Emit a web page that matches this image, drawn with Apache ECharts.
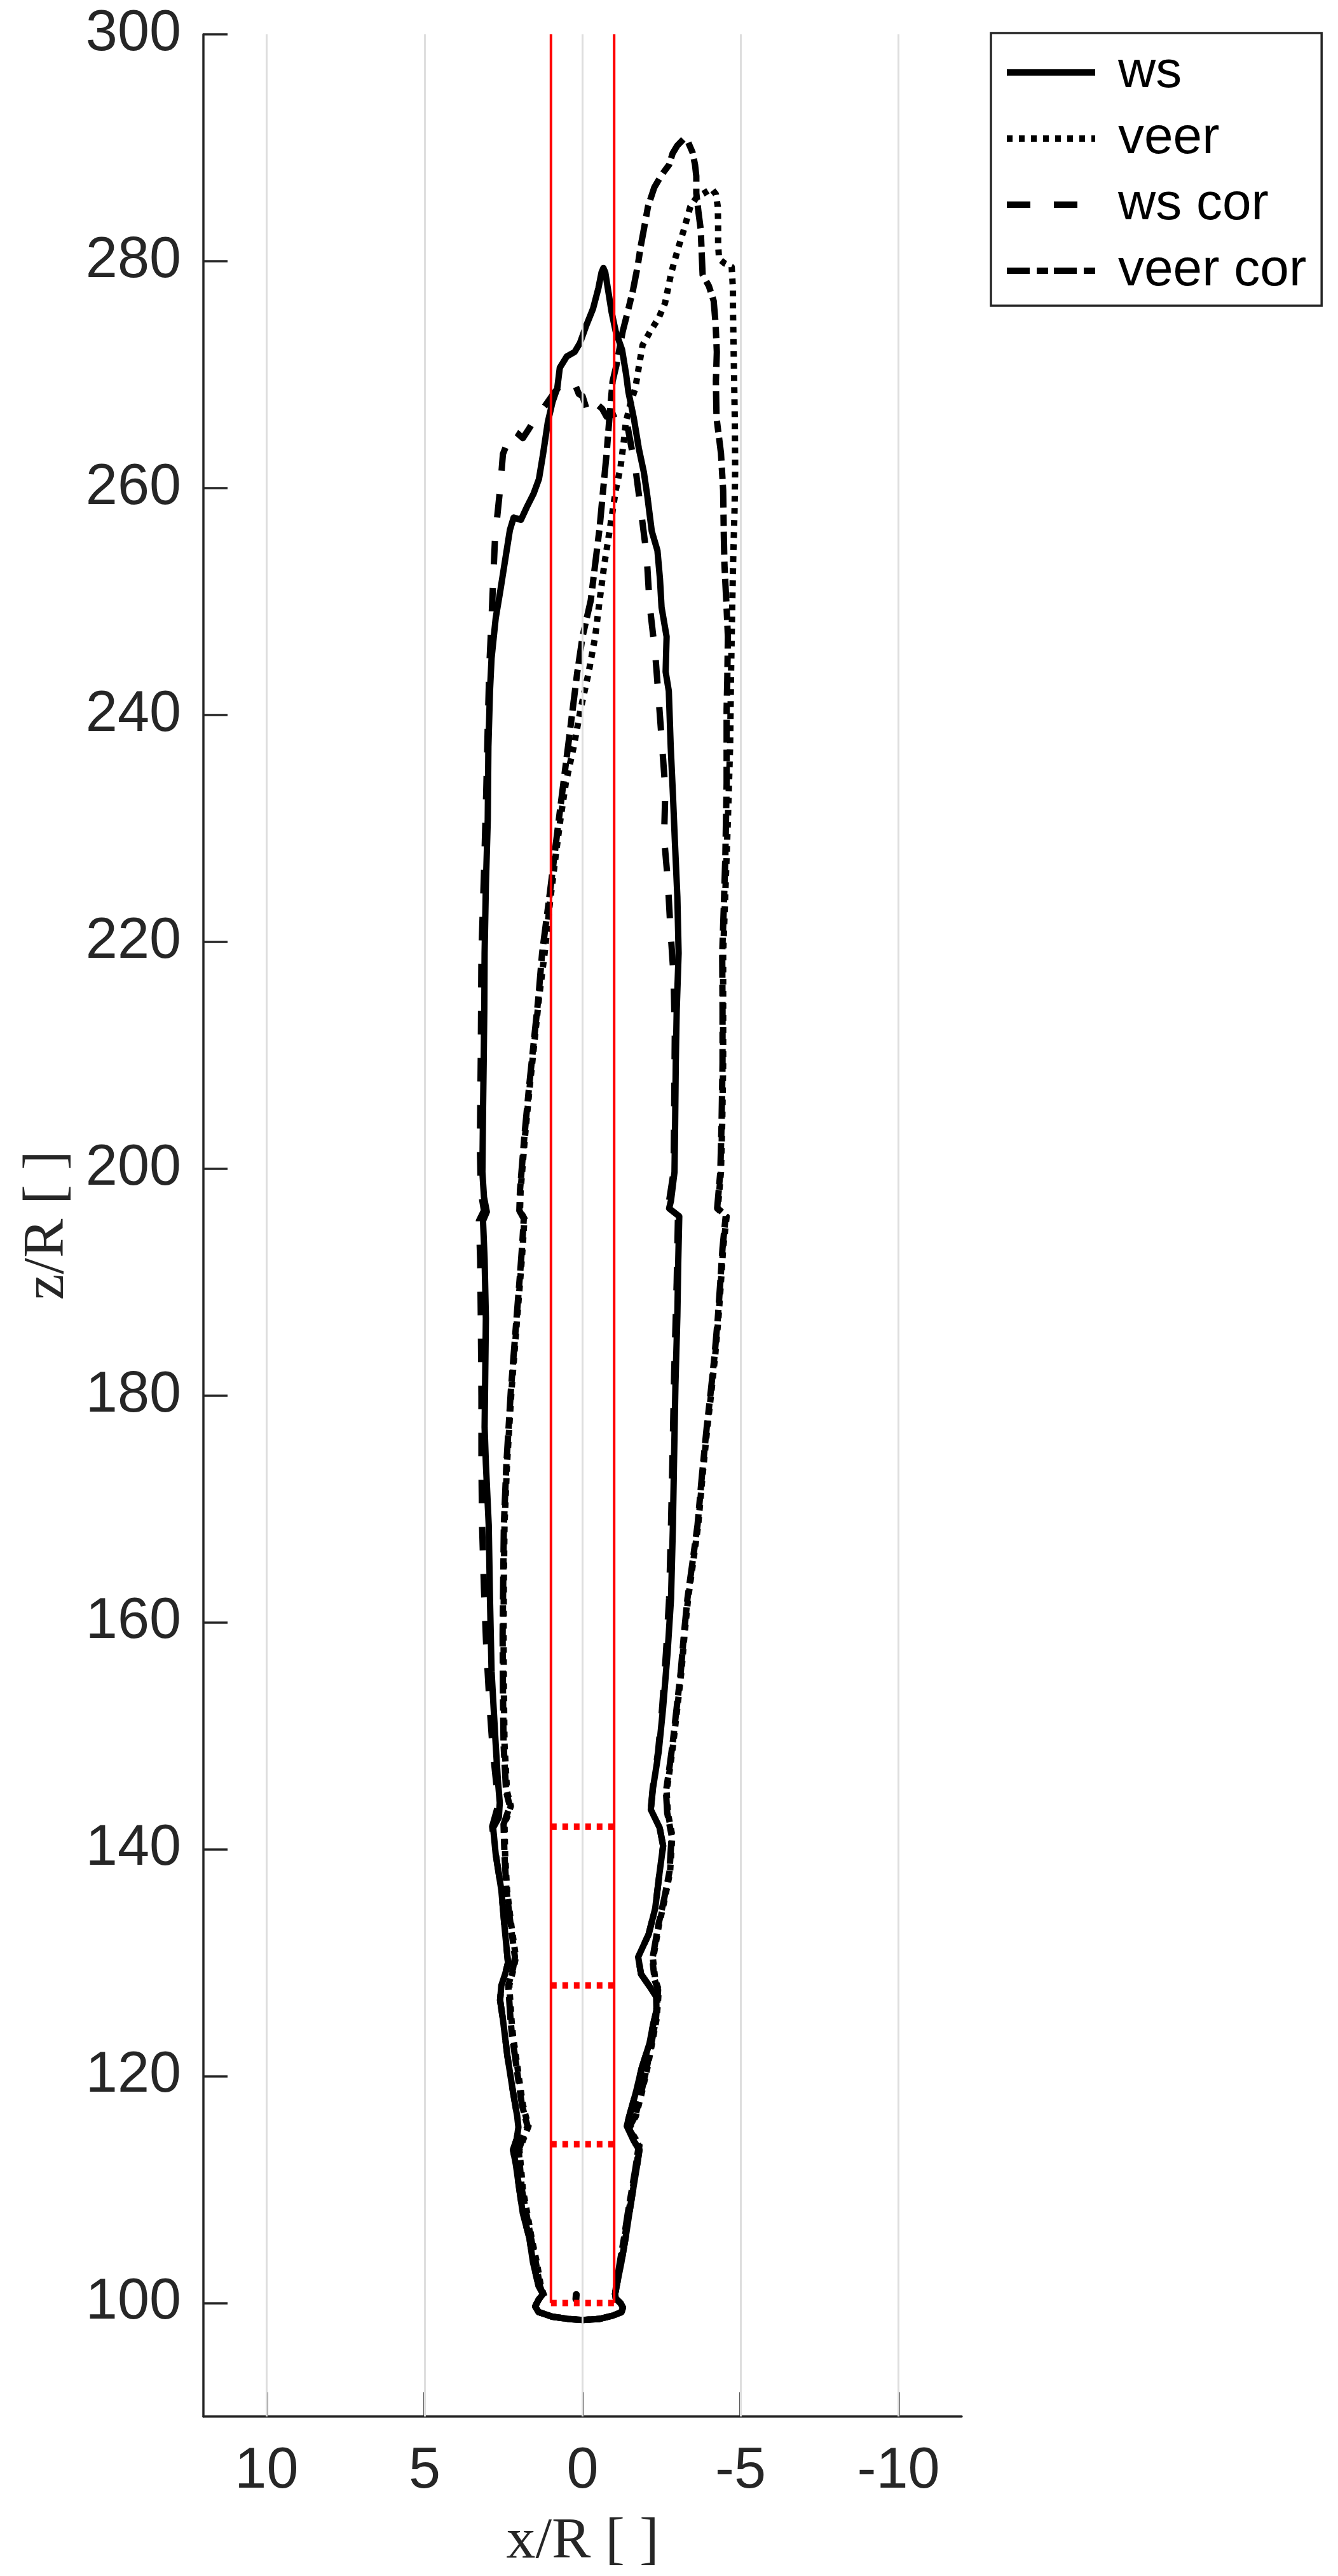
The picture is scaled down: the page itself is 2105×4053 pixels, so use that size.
<!DOCTYPE html>
<html>
<head>
<meta charset="utf-8">
<script src="https://cdn.jsdelivr.net/npm/echarts@6/dist/echarts.min.js"></script>
<style>
html,body{margin:0;padding:0;background:#ffffff;}
#chart{width:2105px;height:4053px;}
</style>
</head>
<body>
<div id="chart"></div>
<script>
// ---------------- data ----------------
const seriesNames = ['ws', 'veer', 'ws cor', 'veer cor'];
const xTicks = [10, 5, 0, -5, -10];
const zTicks = [100, 120, 140, 160, 180, 200, 220, 240, 260, 280, 300];
const xRange = [-12, 12];
const zRange = [90, 300];
const rotorEdges = [1, -1];
const rotorSpan = [100, 300];
const sampleHeights = [100, 114, 128, 142];

// small closed blob near the rotor bottom (part of ws)
const wsDot = [[0.21, 100.35], [0.2, 100.75]];

// bottom bulb shared by the contours (x/R, z/R)
const bulb = [[-1.05,100.4],[-1.2,100.0],[-1.28,99.6],[-1.23,99.2],[-0.97,98.9],[-0.54,98.6],[0,98.5],[0.46,98.6],[0.96,98.8],[1.39,99.2],[1.5,99.7],[1.39,100.3],[1.25,100.8]];

const wsContour = [
[1.25,100.8],[1.39,101.5],[1.57,103.6],[1.68,105.7],[1.89,107.9],[2.0,110.0],[2.11,112.2],[2.2,113.5],[2.08,114.5],[2.03,115.5],[2.07,116.5],[2.2,118.6],[2.38,121.8],[2.52,125.0],[2.61,126.7],[2.57,128.0],[2.45,129.0],[2.36,130.0],[2.47,133.2],[2.57,136.4],[2.75,139.6],[2.83,141.9],[2.65,142.8],[2.62,144.1],[2.68,146.1],[2.75,149.3],[2.88,155.7],[2.93,162.1],[2.97,168.6],[3.06,174],[3.1,177.2],[3.08,182],[3.06,186.8],[3.1,192],[3.15,195.4],[3.03,196.2],[3.12,197.5],[3.17,199.7],[3.15,205],[3.13,209.3],[3.11,214],[3.1,219],[3.06,225],[3.0,230.8],[2.98,237.2],[2.93,242.1],[2.88,245],[2.75,248.5],[2.6,251],[2.47,253.3],[2.3,256.3],[2.18,257.4],[1.95,257.2],[1.75,258.4],[1.55,259.5],[1.38,260.8],[1.25,263],[1.1,265.8],[0.95,267.6],[0.8,268.8],[0.72,270.6],[0.5,271.6],[0.25,272.0],[0.08,272.8],[-0.1,274.2],[-0.33,275.8],[-0.5,277.6],[-0.6,279.0],[-0.66,279.4],
[-0.72,279.0],[-0.8,277.6],[-0.92,275.5],[-1.05,273.8],[-1.25,272.2],[-1.38,270],[-1.45,268.5],[-1.62,266.2],[-1.78,263.5],[-1.94,261.4],[-2.05,259.3],[-2.19,256.2],[-2.37,254.5],[-2.45,252],[-2.5,249.5],[-2.66,246.9],[-2.63,243.8],[-2.73,242.1],[-2.79,237.2],[-2.86,233],[-2.92,229],[-3.0,224],[-3.04,219],[-2.98,214],[-2.95,209.3],[-2.93,204],[-2.91,199.7],[-2.8,197.2],[-2.74,196.5],[-3.06,195.8],[-3.03,192],[-3.0,187],[-2.94,181],[-2.9,175],[-2.86,168.6],[-2.8,162.1],[-2.69,157.3],[-2.55,152.5],[-2.41,148.6],[-2.23,145.4],[-2.16,143.5],[-2.44,141.9],[-2.55,140.3],[-2.44,138],[-2.3,134.8],[-2.09,132.5],[-1.76,130.5],[-1.85,129.0],[-2.1,128.0],[-2.33,127.0],[-2.34,125.8],[-2.23,124.5],[-2.12,122.9],[-1.87,120.7],[-1.69,118.6],[-1.48,116.5],[-1.4,115.6],[-1.62,114.3],[-1.8,113.5],[-1.73,112.2],[-1.6,110.0],[-1.48,107.9],[-1.36,105.7],[-1.23,103.6],[-1.1,101.8],[-1.03,100.8]
];

const veerContour = [
[1.21,100.6],[1.32,101.5],[1.45,103.6],[1.61,105.7],[1.75,107.9],[1.89,110.0],[1.95,112],[2.0,113.5],[1.85,114.6],[1.71,115.6],[1.8,116.5],[1.89,117.5],[2.0,119.6],[2.11,121.8],[2.2,123.5],[2.25,125.0],[2.32,128.0],[2.18,129.5],[2.11,130.5],[2.25,133.2],[2.39,136.4],[2.45,139.5],[2.47,142.2],[2.27,143.8],[2.39,145.1],[2.47,149.3],[2.49,154],[2.5,158.9],[2.49,164],[2.47,168.6],[2.39,174],[2.25,180.4],[2.07,186.8],[1.95,191],[1.89,193.3],[1.84,195.6],[1.98,196.3],[1.96,198.1],[1.82,202.9],[1.68,207],[1.53,211],[1.38,215],[1.2,219],[1.03,223.5],[0.85,227.6],[0.7,230.8],[0.53,234],[0.28,237.2],[0.06,240.5],[-0.19,243.7],[-0.4,246.9],[-0.54,250.1],[-0.69,253.3],[-0.87,256.5],[-1.05,259.8],[-1.2,261.8],[-1.3,264],[-1.37,265.8],[-1.52,267.5],[-1.67,268.8],[-1.8,271],[-1.9,272.6],[-2.14,273.8],[-2.41,275.0],[-2.61,276.3],[-2.72,277.8],[-2.81,279.0],[-3.01,281.0],[-3.21,282.8],[-3.41,284.8],[-3.6,285.6],[-3.85,286.0],[-4.08,286.4],[-4.22,285.9],[-4.28,284.8],[-4.29,283.3],[-4.29,281.5],[-4.32,280.2],[-4.5,279.8],[-4.72,279.5],[-4.76,277.5],[-4.76,275.8],[-4.79,270.8],[-4.82,265.8],[-4.83,261.6],[-4.81,258],[-4.77,254],[-4.74,250.1],[-4.7,243.7],[-4.67,237.2],[-4.6,230.8],[-4.52,224.4],[-4.45,219],[-4.45,214],[-4.45,209.3],[-4.42,204],[-4.38,199.7],[-4.28,196.5],[-4.56,195.8],[-4.45,193],[-4.38,190],[-4.3,186.8],[-4.2,183.6],[-4.08,180.4],[-3.95,177.2],[-3.8,173],[-3.66,168.6],[-3.5,165.3],[-3.34,162.1],[-3.23,159],[-3.13,155.7],[-3.0,152.5],[-2.87,149.3],[-2.76,147],[-2.66,145.1],[-2.7,143.2],[-2.84,141.2],[-2.77,138],[-2.6,135.6],[-2.41,133.2],[-2.23,130.3],[-2.3,128.5],[-2.41,127.6],[-2.38,126.3],[-2.34,125],[-2.2,122.9],[-2.05,120.7],[-1.88,118.6],[-1.69,116.5],[-1.48,115.4],[-1.65,114.6],[-1.8,113.9],[-1.7,112],[-1.58,110.0],[-1.45,107.9],[-1.33,105.7],[-1.2,103.6],[-1.08,101.5],[-1.03,100.8]
];

const wsCorContour = [
[1.25,100.8],[1.39,101.5],[1.57,103.6],[1.68,105.7],[1.89,107.9],[2.0,110.0],[2.11,112.2],[2.2,113.5],[2.08,114.5],[2.03,115.5],[2.07,116.5],[2.2,118.6],[2.38,121.8],[2.52,125.0],[2.61,126.7],[2.57,128.0],[2.45,129.0],[2.36,130.0],[2.47,133.2],[2.57,136.4],[2.75,139.6],[2.86,142.0],[2.7,143.6],[2.72,145.5],[2.85,149],[2.95,153],[3.05,158],[3.12,163],[3.18,168.6],[3.2,174],[3.2,180],[3.22,187],[3.24,192],[3.28,195.4],[3.12,196.3],[3.22,198],[3.25,202],[3.22,210],[3.2,219],[3.12,226],[3.05,233],[3.0,239],[2.95,244.3],[2.88,248.5],[2.83,251.8],[2.77,255.6],[2.6,260.2],[2.52,263.0],[2.22,265.1],[2.05,264.8],[1.89,264.4],[1.7,265.2],[1.45,266.4],[1.2,267.2],[0.9,268.4],[0.6,269.4],[0.4,269.5],[0.22,269.0],[0.12,268.3],[0.0,268.1],[-0.18,266.5],[-0.3,266.7],[-0.45,267.4],[-0.62,267.0],[-0.76,266.3],[-1.0,266.5],[-1.25,266.8],[-1.4,265.8],[-1.52,264],[-1.69,261.4],[-1.85,258],[-2.03,254],[-2.12,249.8],[-2.3,245.4],[-2.41,241.4],[-2.51,237.6],[-2.62,233.4],[-2.58,229.2],[-2.7,225.3],[-2.78,221.2],[-2.88,217],[-2.92,212],[-2.9,205],[-2.88,199.7],[-2.72,196.8],[-3.02,195.8],[-2.98,190],[-2.9,182],[-2.85,175],[-2.8,168.6],[-2.74,162.1],[-2.64,157.3],[-2.52,152.5],[-2.39,148.6],[-2.22,145.4],[-2.16,143.5],[-2.44,141.9],[-2.55,140.3],[-2.44,138],[-2.3,134.8],[-2.09,132.5],[-1.76,130.5],[-1.85,129.0],[-2.1,128.0],[-2.33,127.0],[-2.34,125.8],[-2.23,124.5],[-2.12,122.9],[-1.87,120.7],[-1.69,118.6],[-1.48,116.5],[-1.4,115.6],[-1.62,114.3],[-1.8,113.5],[-1.73,112.2],[-1.6,110.0],[-1.48,107.9],[-1.36,105.7],[-1.23,103.6],[-1.1,101.8],[-1.03,100.8]
];

const veerCorContour = [
[1.23,100.6],[1.35,101.5],[1.48,103.6],[1.63,105.7],[1.78,107.9],[1.92,110],[1.98,112],[2.02,113.5],[1.88,114.6],[1.74,115.6],[1.83,116.5],[1.92,117.5],[2.03,119.6],[2.14,121.8],[2.23,123.5],[2.28,125],[2.35,128],[2.2,129.5],[2.14,130.5],[2.27,133.2],[2.41,136.4],[2.47,139.5],[2.5,142.2],[2.3,143.8],[2.42,145.1],[2.5,149.3],[2.52,154],[2.53,158.9],[2.51,164],[2.49,168.6],[2.41,174],[2.27,180.4],[2.09,186.8],[1.97,191],[1.91,193.3],[1.86,195.6],[2.0,196.3],[1.98,198.1],[1.84,202.9],[1.7,207],[1.55,211],[1.4,215],[1.28,219],[1.03,224.4],[0.75,230.8],[0.46,237.2],[0.17,243.7],[0.0,246.9],[-0.26,250.1],[-0.4,253.3],[-0.54,256.5],[-0.65,259.8],[-0.76,263],[-0.85,266.2],[-0.95,269.4],[-1.07,270.8],[-1.17,272.3],[-1.27,273.8],[-1.47,276.0],[-1.6,277.5],[-1.74,279.5],[-1.84,281.3],[-1.94,282.8],[-2.07,284.8],[-2.27,286.5],[-2.5,287.6],[-2.74,288.5],[-2.85,289.5],[-3.0,290.2],[-3.21,290.8],[-3.34,290.5],[-3.48,289.6],[-3.56,288.5],[-3.6,287.5],[-3.6,286.0],[-3.67,284.3],[-3.74,282.8],[-3.77,280.8],[-3.8,278.8],[-4.0,277.8],[-4.15,276.5],[-4.21,274.5],[-4.25,272.0],[-4.22,269.4],[-4.24,266.2],[-4.38,263.1],[-4.45,259.8],[-4.47,256],[-4.49,253.3],[-4.55,250],[-4.6,246.9],[-4.58,243],[-4.56,240.5],[-4.56,234],[-4.52,227.6],[-4.47,223],[-4.42,219],[-4.43,214],[-4.43,209.3],[-4.4,204],[-4.36,199.7],[-4.26,196.5],[-4.53,195.8],[-4.43,193],[-4.36,190],[-4.28,186.8],[-4.18,183.6],[-4.06,180.4],[-3.93,177.2],[-3.78,173],[-3.64,168.6],[-3.48,165.3],[-3.32,162.1],[-3.21,159],[-3.11,155.7],[-2.98,152.5],[-2.85,149.3],[-2.74,147],[-2.64,145.1],[-2.68,143.2],[-2.82,141.2],[-2.75,138],[-2.58,135.6],[-2.39,133.2],[-2.21,130.3],[-2.28,128.5],[-2.39,127.6],[-2.36,126.3],[-2.32,125],[-2.18,122.9],[-2.03,120.7],[-1.86,118.6],[-1.67,116.5],[-1.46,115.4],[-1.63,114.6],[-1.78,113.9],[-1.68,112],[-1.56,110],[-1.43,107.9],[-1.31,105.7],[-1.18,103.6],[-1.06,101.5],[-1.03,100.8]
];

// ---------------- chart ----------------
const chart = echarts.init(document.getElementById('chart'), null, {renderer: 'canvas', width: 2105, height: 4053});

const axisColor = '#262626';
const contours = [wsContour, veerContour, wsCorContour, veerCorContour];
const dashTypes = ['solid', [9, 10], [37, 37], [36, 11, 18, 9]];

const contourSeries = contours.map((c, i) => ({
  name: seriesNames[i],
  type: 'line',
  data: c.concat(bulb),
  showSymbol: false,
  symbol: 'none',
  smooth: false,
  z: 3,
  lineStyle: {color: '#000000', width: 10, type: dashTypes[i], cap: 'butt', join: 'round'}
}));

const gridSeries = {
  type: 'line', data: [], silent: true, z: 1,
  markLine: {
    silent: true, symbol: ['none', 'none'], animation: false,
    label: {show: false},
    lineStyle: {color: '#dedede', width: 3, type: 'solid'},
    data: xTicks.map(v => ({xAxis: v}))
  }
};

const redVertical = rotorEdges.map(e => ({
  type: 'line', data: [[e, rotorSpan[0]], [e, rotorSpan[1]]],
  showSymbol: false, symbol: 'none', silent: true, z: 5,
  lineStyle: {color: '#ff0000', width: 4, type: 'solid'}
}));

const redDotted = sampleHeights.map(h => ({
  type: 'line', data: [[rotorEdges[0], h], [rotorEdges[1], h]],
  showSymbol: false, symbol: 'none', silent: true, z: 6,
  lineStyle: {color: '#ff0000', width: 10, type: [9, 9], cap: 'butt'}
}));

const dotSeries = {
  type: 'line', data: wsDot, showSymbol: false, symbol: 'none', silent: true, z: 3,
  lineStyle: {color: '#000000', width: 11, cap: 'round'}
};

chart.setOption({
  animation: false,
  backgroundColor: '#ffffff',
  grid: {left: 320, top: 54, width: 1193, height: 3748, containLabel: false, outerBoundsMode: 'none'},
  legend: {
    data: seriesNames,
    orient: 'vertical',
    left: 1559, top: 52,
    padding: [21, 24, 14, 20],
    itemWidth: 139, itemHeight: 12, itemGap: 22,
    borderColor: axisColor, borderWidth: 3.5, backgroundColor: '#ffffff',
    selectedMode: false,
    itemStyle: {opacity: 0},
    lineStyle: {width: 10},
    textStyle: {fontSize: 82, fontFamily: 'Liberation Sans', color: '#000000', padding: [0, 0, 0, 31], lineHeight: 82}
  },
  xAxis: {
    type: 'value', min: xRange[0], max: xRange[1], inverse: true,
    name: 'x/R [ ]', nameLocation: 'middle', nameGap: 152,
    nameTextStyle: {fontFamily: 'Liberation Serif', fontSize: 92, color: axisColor},
    axisLine: {show: true, onZero: false, lineStyle: {color: axisColor, width: 3.5}},
    axisTick: {show: true, inside: true, length: 38, customValues: xTicks, lineStyle: {color: axisColor, width: 3.5}},
    axisLabel: {show: true, customValues: xTicks, fontSize: 90, fontFamily: 'Liberation Sans', color: axisColor, margin: 42},
    splitLine: {show: false}
  },
  yAxis: {
    type: 'value', min: zRange[0], max: zRange[1],
    name: 'z/R [ ]', nameLocation: 'middle', nameGap: 199, nameRotate: 90,
    nameTextStyle: {fontFamily: 'Liberation Serif', fontSize: 92, color: axisColor},
    axisLine: {show: true, onZero: false, lineStyle: {color: axisColor, width: 3.5}},
    axisTick: {show: true, inside: true, length: 38, customValues: zTicks, lineStyle: {color: axisColor, width: 3.5}},
    axisLabel: {show: true, customValues: zTicks, fontSize: 90, fontFamily: 'Liberation Sans', color: axisColor, margin: 35},
    splitLine: {show: false}
  },
  series: [gridSeries].concat(contourSeries, [dotSeries], redVertical, redDotted)
});
</script>
</body>
</html>
